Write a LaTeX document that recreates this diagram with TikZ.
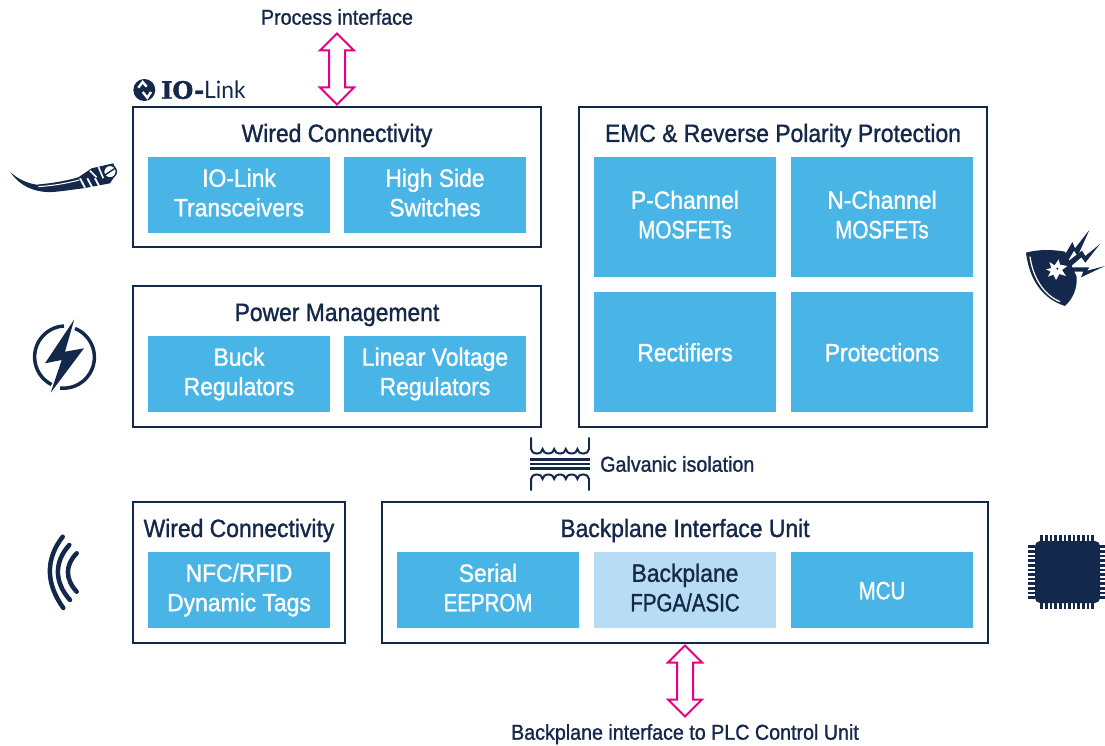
\documentclass[tikz,border=0pt]{standalone}
\usepackage{fontspec}
\setmainfont[FakeStretch=0.915, FakeBold=1.2]{Liberation Sans}
\newfontfamily\slabfont[FakeBold=1.5]{DejaVu Serif}
\newfontfamily\logofont{Lato}
\usetikzlibrary{positioning, shapes.arrows}

\definecolor{navy}{HTML}{14284B}
\definecolor{cellblue}{HTML}{49B4E6}
\definecolor{celllight}{HTML}{B8DCF3}
\definecolor{pink}{HTML}{E6007E}

\newcommand{\cellstrut}{\rule[-5pt]{0pt}{28.5pt}}
\newcommand{\capsword}[1]{{\addfontfeature{FakeStretch=0.82, FakeBold=1.2}#1}}

\tikzset{
    frame/.style={draw=navy, line width=2pt, fill=white, outer sep=0pt, inner sep=0pt},
    title/.style={text=navy, text height=20pt, text depth=2pt, font=\fontsize{25}{28}\selectfont},
    cell/.style={fill=cellblue, text=white, align=center, outer sep=0pt, inner sep=0pt,
        minimum width=182pt, minimum height=76pt,
        font=\fontsize{25}{29.5}\selectfont,
        execute at begin node=\cellstrut, execute at end node=\cellstrut},
    tallcell/.style={cell, minimum height=120pt},
    caption/.style={text=navy, text height=17pt, text depth=1.6pt, font=\fontsize{21.5}{24}\selectfont},
    bothways/.style={double arrow, draw=pink, line width=2pt, fill=white, rotate=90,
        minimum height=71pt, inner xsep=0pt, inner ysep=7pt,
        double arrow head extend=9pt},
    zoomed/.style={shift={#1}, x=0.3333pt, y=-0.3333pt},
}

\begin{document}
\begin{tikzpicture}[x=1pt, y=1pt, node distance=15pt]
    \useasboundingbox (0,0) rectangle (1105,-746);

    % Frames
    \node[frame, minimum width=408pt, minimum height=140pt] (wired) at (337,-177) {};
    \node[frame, minimum width=408pt, minimum height=141pt] (power) at (337,-356.5) {};
    \node[frame, minimum width=408pt, minimum height=320pt] (emc) at (783,-267) {};
    \node[frame, minimum width=212pt, minimum height=141pt] (nfc) at (239,-572.5) {};
    \node[frame, minimum width=606pt, minimum height=141pt] (backplane) at (685,-572.5) {};

    % Titles
    \node[title] (wiredtitle) at (337,-133) {Wired Connectivity};
    \node[title] (powertitle) at (337,-312) {Power Management};
    \node[title] (emctitle) at (783,-133) {EMC \& Reverse Polarity Protection};
    \node[title] (nfctitle) at (239,-528) {Wired Connectivity};
    \node[title] (backplanetitle) at (685,-528) {Backplane Interface Unit};

    % Cells
    \node[cell, below right=50pt and 15pt of wired.north west] (transceivers) {IO-Link\\Transceivers};
    \node[cell, right=14pt of transceivers] (switches) {High Side\\Switches};
    \node[cell, below right=50pt and 15pt of power.north west] (buck) {Buck\\Regulators};
    \node[cell, right=14pt of buck] (linear) {Linear Voltage\\Regulators};
    \node[tallcell, below right=50pt and 15pt of emc.north west] (pmos) {P-Channel\\\capsword{MOSFETs}};
    \node[tallcell, right=of pmos] (nmos) {N-Channel\\\capsword{MOSFETs}};
    \node[tallcell, below=of pmos] (rectifiers) {Rectifiers};
    \node[tallcell, below=of nmos] (protections) {Protections};
    \node[cell, below right=50pt and 15pt of nfc.north west] (tags) {NFC/RFID\\Dynamic Tags};
    \node[cell, below right=50pt and 15pt of backplane.north west] (eeprom) {Serial\\\capsword{EEPROM}};
    \node[cell, right=of eeprom, fill=celllight, text=navy] (fpga) {Backplane\\\capsword{FPGA/ASIC}};
    \node[cell, right=of fpga] (mcu) {\capsword{MCU}};

    % Interfaces
    \node[bothways] (processarrow) at (337,-69) {};
    \node[caption] (processlabel) at (337,-17) {Process interface};
    \node[bothways] (plcarrow) at (685,-681) {};
    \node[caption] (plclabel) at (685,-732) {Backplane interface to PLC Control Unit};
    \node[caption, anchor=west, inner sep=0pt] (galvanic) at (600,-464) {Galvanic isolation};

    % IO-Link logo
    \fill[navy] (144.3,-90) circle (11);
    \draw[white, line width=2.4pt] (138.3,-87.7) -- (142.7,-82) -- (146.7,-86.7);
    \draw[white, line width=2.4pt] (142.7,-92) -- (147.3,-97.7) -- (151,-92);
    \node[anchor=west, inner sep=0pt, text=navy, font=\fontsize{24}{28}\selectfont] (iolink) at (161,-90)
        {{\slabfont\bfseries IO-}{\logofont\addfontfeature{FakeStretch=0.95}Link}};

    % Transformer
    \foreach \y in {-459.5,-464,-468.5}
        \draw[navy, line width=2.6pt] (530,\y) -- (590,\y);
    \draw[navy, line width=2pt, line cap=round] (531,-438) -- (531,-449)
        \foreach \i in {0,...,4} { arc[start angle=180, end angle=360, x radius=5.8, y radius=4.5] };
    \draw[navy, line width=2pt, line cap=round] (589,-438) -- (589,-449);
    \draw[navy, line width=2pt, line cap=round] (531,-490) -- (531,-479)
        \foreach \i in {0,...,4} { arc[start angle=180, end angle=0, x radius=5.8, y radius=4.5] };
    \draw[navy, line width=2pt, line cap=round] (589,-490) -- (589,-479);

    % Cable icon
    \begin{scope}[zoomed={(0,-70)}]
        \fill[navy] (30,305) .. controls (60,350) and (110,372) .. (170,365)
            .. controls (200,362) and (225,358) .. (250,355)
            -- (330,340) -- (350,310) -- (340,280) -- (275,295) -- (235,322)
            .. controls (190,335) and (150,340) .. (110,344)
            .. controls (80,340) and (50,325) .. cycle;
        \draw[white, line width=1pt] (115,350) .. controls (160,347) and (200,340) .. (238,330);
        \foreach \x in {240,262,285}
            \draw[white, line width=1.8pt] (\x,325) -- (\x+15,353);
        \draw[white, line width=1.6pt] (270,302) -- (290,322) (295,290) -- (310,325);
        \draw[navy, fill=white, line width=1.4pt] (330,305) circle (19);
        \draw[navy, line width=1.4pt] (315,315) -- (345,295);
    \end{scope}

    % Power icon
    \draw[navy, line width=3.5pt] (64,-326) arc[start angle=93, end angle=243, radius=31];
    \draw[navy, line width=3.5pt] (75,-328.5) arc[start angle=68, end angle=-96, radius=31];
    \fill[navy] (74.3,-319.3) -- (45,-363.3) -- (61.7,-360) -- (50.7,-392.7)
        -- (84,-348.3) -- (65,-351.7) -- cycle;

    % Wireless icon
    \draw[navy, line width=4.5pt, line cap=round] (62.7,-536.7) .. controls (45.5,-559) and (45.5,-583) .. (63.3,-608);
    \draw[navy, line width=4.5pt, line cap=round] (69.3,-545) .. controls (54,-562) and (54,-582) .. (70,-600);
    \draw[navy, line width=4.5pt, line cap=round] (76.7,-553.3) .. controls (65,-565) and (65,-579) .. (76.7,-591.7);

    % Shield icon
    \begin{scope}[zoomed={(1010,-220)}]
        \fill[navy] (48,98) .. controls (85,88) and (125,88) .. (165,95)
            -- (200,170) .. controls (202,205) and (190,235) .. (165,258)
            .. controls (110,240) and (60,195) .. cycle;
        \draw[white, line width=1.2pt] (60,110) .. controls (68,170) and (100,225) .. (150,245);
        \fill[navy] (150,130) -- (187,66) -- (195,85) -- (238,30) -- (203,108) -- (192,92) -- (165,138) -- cycle;
        \fill[navy] (160,135) -- (216,92) -- (226,108) -- (270,72) -- (226,128) -- (214,112) -- (172,148) -- cycle;
        \fill[navy] (170,142) -- (238,142) -- (232,152) -- (285,138) -- (213,172) -- (220,155) -- (170,155) -- cycle;
        \fill[white] (108,148) -- (124,144) -- (118,126) -- (134,136) -- (146,118)
            -- (150,134) -- (172,138) -- (156,150) -- (168,168) -- (148,162)
            -- (138,180) -- (130,164) -- (114,170) -- (122,155) -- cycle;
        \fill[navy] (142,146) circle (3.5);
    \end{scope}

    % MCU icon
    \foreach \i in {0,...,11} {
        \fill[navy] (1041.7+\i*4.63-1.3,-541) rectangle +(2.6,6);
        \fill[navy] (1041.7+\i*4.63-1.3,-609) rectangle +(2.6,6);
        \fill[navy] (1028.3,-546.7-\i*4.63-1.3) rectangle +(7,2.6);
        \fill[navy] (1099,-546.7-\i*4.63-1.3) rectangle +(6,2.6);
    }
    \fill[navy, rounded corners=5pt] (1035,-541) rectangle (1100,-603);
\end{tikzpicture}
\end{document}
